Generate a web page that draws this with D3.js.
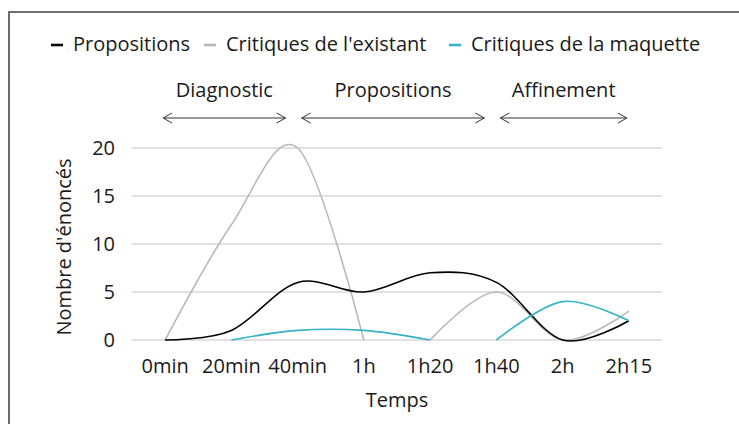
<!DOCTYPE html>
<html>
<head>
<meta charset="utf-8">
<script src="https://cdn.jsdelivr.net/npm/d3@7"></script>
<style>
  body { margin: 0; background: #fff; }
  svg text { font-family: "Open Sans", "Noto Sans", sans-serif; fill: #1a1a1a; }
</style>
</head>
<body>
<div id="chart"></div>
<script>
let categories = ["0min", "20min", "40min", "1h", "1h20", "1h40", "2h", "2h15"]
let yTicks = [0, 5, 10, 15, 20]

let propositions = [0, 1, 6, 5, 7, 6, 0, 2]
let critiquesExistant = [0, 12, 20, 0, 0, 5, 0, 3]
let critiquesMaquette = [0, 0, 1, 1, 0, 0, 4, 2]

let seriesNames = ["Propositions", "Critiques de l'existant", "Critiques de la maquette"]
let seriesColors = ["#000000", "#b9b9b9", "#36b2c6"]

let phaseNames = ["Diagnostic", "Propositions", "Affinement"]
let phaseStart = ["0min", "40min", "1h40"]
let phaseEnd = ["40min", "1h40", "2h15"]

let width = 739, height = 424
let margin = { top: 148, right: 77, bottom: 84, left: 132 }

let svg = d3.select("#chart")
    .append("svg")
    .attr("width", width)
    .attr("height", height)

// outer frame (runs off the right and bottom edges)
svg.append("rect")
    .attr("x", 9).attr("y", 12)
    .attr("width", 760).attr("height", 440)
    .attr("fill", "none")
    .attr("stroke", "#6e6e6e")
    .attr("stroke-width", 2)

let xScale = d3.scaleBand()
    .domain(categories)
    .range([margin.left, width - margin.right])

let xc = d => xScale(d) + xScale.bandwidth() / 2

let yScale = d3.scaleLinear()
    .domain([0, 20])
    .range([height - margin.bottom, margin.top])

// gridlines
svg.append("g")
    .selectAll("line")
    .data(yTicks)
    .enter()
    .append("line")
    .attr("x1", margin.left)
    .attr("x2", width - margin.right)
    .attr("y1", d => yScale(d))
    .attr("y2", d => yScale(d))
    .attr("stroke", "#c4c4c4")
    .attr("stroke-width", 1.2)

// y axis labels
let yAxis = svg.append("g")
    .attr("transform", "translate(" + margin.left + ",0)")
    .call(d3.axisLeft(yScale).tickValues(yTicks).tickSize(0).tickPadding(17))
yAxis.select(".domain").remove()
yAxis.selectAll("text")
    .style("font-size", "20px")
    .style("font-family", "'Open Sans', sans-serif")
    .attr("fill", "#1a1a1a")

// x axis labels
let xAxis = svg.append("g")
    .attr("transform", "translate(0," + (height - margin.bottom) + ")")
    .call(d3.axisBottom(xScale).tickSize(0).tickPadding(19))
xAxis.select(".domain").remove()
xAxis.selectAll("text")
    .style("font-size", "20px")
    .style("font-family", "'Open Sans', sans-serif")
    .attr("fill", "#1a1a1a")

// axis titles
svg.append("text")
    .attr("x", (margin.left + width - margin.right) / 2)
    .attr("y", 407)
    .attr("text-anchor", "middle")
    .style("font-size", "20px")
    .text("Temps")

svg.append("text")
    .attr("transform", "translate(71,247) rotate(-90)")
    .attr("text-anchor", "middle")
    .style("font-size", "20px")
    .text("Nombre d'énoncés")

// a flat run of zeros lies on the axis line, so it is not drawn
function splitRuns(values) {
    let runs = []
    let cur = []
    for (let i = 0; i < values.length; i++) {
        if (i > 0 && values[i] == 0 && values[i - 1] == 0) {
            if (cur.length > 1) runs.push(cur)
            cur = []
        }
        cur.push({ cat: categories[i], v: values[i] })
    }
    if (cur.length > 1) runs.push(cur)
    return runs
}

let line = d3.line()
    .x(d => xc(d.cat))
    .y(d => yScale(d.v))
    .curve(d3.curveCardinal.tension(0))

let allSeries = [propositions, critiquesExistant, critiquesMaquette]
let drawOrder = [1, 0, 2]

drawOrder.forEach(function (s) {
    svg.append("g")
        .selectAll("path")
        .data(splitRuns(allSeries[s]))
        .enter()
        .append("path")
        .attr("d", line)
        .attr("fill", "none")
        .attr("stroke", seriesColors[s])
        .attr("stroke-width", 1.6)
})

// legend
let legendX = [73, 226, 471]
let legend = svg.append("g")
    .selectAll("g")
    .data(seriesNames)
    .enter()
    .append("g")
    .attr("transform", (d, i) => "translate(" + legendX[i] + ",0)")

legend.append("line")
    .attr("x1", -22).attr("x2", -10)
    .attr("y1", 45).attr("y2", 45)
    .attr("stroke", (d, i) => seriesColors[i])
    .attr("stroke-width", 2.6)

legend.append("text")
    .attr("x", 0)
    .attr("y", 51)
    .style("font-size", "20px")
    .text(d => d)

// phase arrows
let arrowY = 118
let phases = svg.append("g")
    .selectAll("g")
    .data(phaseNames)
    .enter()
    .append("g")

phases.each(function (d, i) {
    let g = d3.select(this)
    let x1 = xc(phaseStart[i]) - 2 + (i > 0 ? 6 : 0)
    let x2 = xc(phaseEnd[i]) - 2 - (i < 2 ? 10 : 0)
    if (i == 2) x2 = xc(phaseEnd[i]) - 2
    g.append("line")
        .attr("x1", x1).attr("x2", x2)
        .attr("y1", arrowY).attr("y2", arrowY)
        .attr("stroke", "#333")
        .attr("stroke-width", 1)
    g.append("path")
        .attr("d", "M" + (x1 + 9) + "," + (arrowY - 5) + "L" + x1 + "," + arrowY + "L" + (x1 + 9) + "," + (arrowY + 5))
        .attr("fill", "none")
        .attr("stroke", "#333")
        .attr("stroke-width", 1)
    g.append("path")
        .attr("d", "M" + (x2 - 9) + "," + (arrowY - 5) + "L" + x2 + "," + arrowY + "L" + (x2 - 9) + "," + (arrowY + 5))
        .attr("fill", "none")
        .attr("stroke", "#333")
        .attr("stroke-width", 1)
    g.append("text")
        .attr("x", (x1 + x2) / 2)
        .attr("y", 97)
        .attr("text-anchor", "middle")
        .style("font-size", "20px")
        .text(d)
})
</script>
</body>
</html>
